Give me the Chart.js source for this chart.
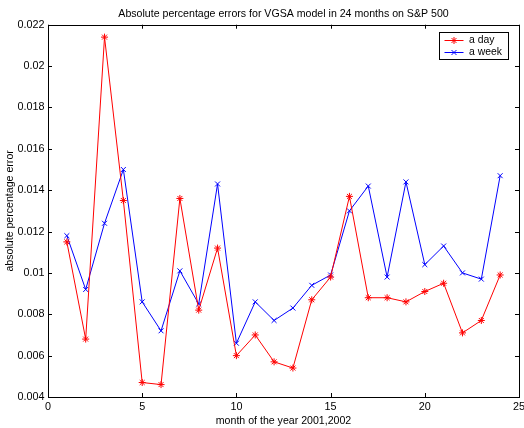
<!DOCTYPE html>
<html>
<head>
<meta charset="utf-8">
<script src="https://cdn.jsdelivr.net/npm/chart.js@4/dist/chart.umd.min.js"></script>
<style>
  html, body { margin: 0; padding: 0; background: #fff; }
  #wrap { width: 524px; height: 428px; }
</style>
</head>
<body>
<div id="wrap"><canvas id="c" width="524" height="428"></canvas></div>
<script>
// Month index (2001-2002)
const months = [1, 2, 3, 4, 5, 6, 7, 8, 9, 10, 11, 12, 13, 14, 15, 16, 17, 18, 19, 20, 21, 22, 23, 24];

// Absolute percentage error, one-day horizon
const errDay = [0.0115, 0.0068, 0.0214, 0.0135, 0.0047, 0.0046, 0.0136, 0.0082, 0.0112, 0.0060,
                0.0070, 0.0057, 0.0054, 0.0087, 0.0098, 0.0137, 0.0088, 0.0088, 0.0086, 0.0091,
                0.0095, 0.0071, 0.0077, 0.0099];

// Absolute percentage error, one-week horizon
const errWeek = [0.0118, 0.0092, 0.0124, 0.0150, 0.0086, 0.0072, 0.0101, 0.0085, 0.0143, 0.0066,
                 0.0086, 0.0077, 0.0083, 0.0094, 0.0099, 0.0130, 0.0142, 0.0098, 0.0144, 0.0104,
                 0.0113, 0.0100, 0.0097, 0.0147];

// Axis ticks
const xTicks = [0, 5, 10, 15, 20, 25];
const yTicks = [0.004, 0.006, 0.008, 0.010, 0.012, 0.014, 0.016, 0.018, 0.020, 0.022];

const FONT = "'Liberation Sans', Arial, Helvetica, sans-serif";

const toPoints = (ys) => months.map((m, i) => ({ x: m, y: ys[i] }));

// Frame with inward ticks on all four sides, plus an in-plot legend
const framePlugin = {
  id: 'frame',
  afterDatasetsDraw(chart) {
    const { ctx, chartArea: a, scales } = chart;
    const L = 4;
    ctx.save();
    ctx.strokeStyle = '#000';
    ctx.lineWidth = 1;
    ctx.beginPath();
    scales.x.ticks.forEach(t => {
      const px = Math.round(scales.x.getPixelForValue(t.value)) + 0.5;
      ctx.moveTo(px, a.bottom); ctx.lineTo(px, a.bottom - L);
      ctx.moveTo(px, a.top); ctx.lineTo(px, a.top + L);
    });
    scales.y.ticks.forEach(t => {
      const py = Math.round(scales.y.getPixelForValue(t.value)) + 0.5;
      ctx.moveTo(a.left, py); ctx.lineTo(a.left + L, py);
      ctx.moveTo(a.right, py); ctx.lineTo(a.right - L, py);
    });
    ctx.stroke();
    ctx.strokeRect(Math.round(a.left) + 0.5, Math.round(a.top) + 0.5,
                   Math.round(a.right - a.left), Math.round(a.bottom - a.top));

    // legend box
    const bx = 439.5, by = 32.5, bw = 69, bh = 27;
    ctx.fillStyle = '#fff';
    ctx.fillRect(bx, by, bw, bh);
    ctx.strokeRect(bx, by, bw, bh);
    chart.data.datasets.forEach((ds, i) => {
      const y = by + 8 + i * 12;
      ctx.strokeStyle = ds.borderColor;
      ctx.lineWidth = 1;
      ctx.beginPath();
      ctx.moveTo(bx + 5, y); ctx.lineTo(bx + 24, y);
      ctx.stroke();
      Chart.helpers.drawPoint(ctx, {
        pointStyle: ds.pointStyle, radius: ds.pointRadius, borderWidth: 1, rotation: 0
      }, bx + 14.5, y);
      ctx.fillStyle = '#000';
      ctx.font = '10.4px ' + FONT;
      ctx.textBaseline = 'middle';
      ctx.textAlign = 'left';
      ctx.fillText(ds.label, bx + 29.5, y);
    });
    ctx.restore();
  }
};

new Chart(document.getElementById('c'), {
  type: 'line',
  data: {
    datasets: [
      {
        label: 'a day',
        data: toPoints(errDay),
        borderColor: '#ff0000',
        backgroundColor: '#ff0000',
        borderWidth: 1,
        pointStyle: 'star',
        pointRadius: 3.5,
        pointBorderWidth: 1,
        pointBorderColor: '#ff0000',
        tension: 0,
        fill: false
      },
      {
        label: 'a week',
        data: toPoints(errWeek),
        borderColor: '#0000ff',
        backgroundColor: '#0000ff',
        borderWidth: 1,
        pointStyle: 'crossRot',
        pointRadius: 3.5,
        pointBorderWidth: 1,
        pointBorderColor: '#0000ff',
        tension: 0,
        fill: false
      }
    ]
  },
  options: {
    responsive: false,
    animation: false,
    events: [],
    layout: { padding: { left: 0, right: 4, top: 0, bottom: 0 } },
    plugins: {
      legend: { display: false },
      tooltip: { enabled: false },
      title: {
        display: true,
        text: 'Absolute percentage errors for VGSA model in 24 months on S&P 500',
        color: '#000',
        font: { family: FONT, size: 10.6, weight: 'normal' },
        fullSize: false,
        padding: { top: 8, bottom: 4 }
      }
    },
    scales: {
      x: {
        type: 'linear',
        min: 0, max: 25,
        grid: { display: false, drawTicks: false, tickLength: 0 },
        border: { display: false },
        afterBuildTicks: s => { s.ticks = xTicks.map(v => ({ value: v })); },
        afterFit: s => { s.height = 31; s.paddingLeft = 0; s.paddingRight = 0; },
        ticks: {
          color: '#000', padding: 4, maxRotation: 0,
          font: { family: FONT, size: 10.8 },
          callback: v => String(v)
        },
        title: {
          display: true,
          text: 'month of the year 2001,2002',
          color: '#000',
          font: { family: FONT, size: 10.6 },
          padding: { top: 0, bottom: 1 }
        }
      },
      y: {
        type: 'linear',
        min: 0.004, max: 0.022,
        grid: { display: false, drawTicks: false, tickLength: 0 },
        border: { display: false },
        afterBuildTicks: s => { s.ticks = yTicks.map(v => ({ value: v })); },
        afterFit: s => { s.width = 48; s.paddingTop = 0; s.paddingBottom = 0; },
        ticks: {
          color: '#000', padding: 3.5,
          font: { family: FONT, size: 10.8 },
          callback: v => String(+v.toFixed(3))
        },
        title: {
          display: true,
          text: 'absolute percentage error',
          color: '#000',
          font: { family: FONT, size: 10.6 },
          padding: { top: 4, bottom: 0 }
        }
      }
    }
  },
  plugins: [framePlugin]
});
</script>
</body>
</html>
